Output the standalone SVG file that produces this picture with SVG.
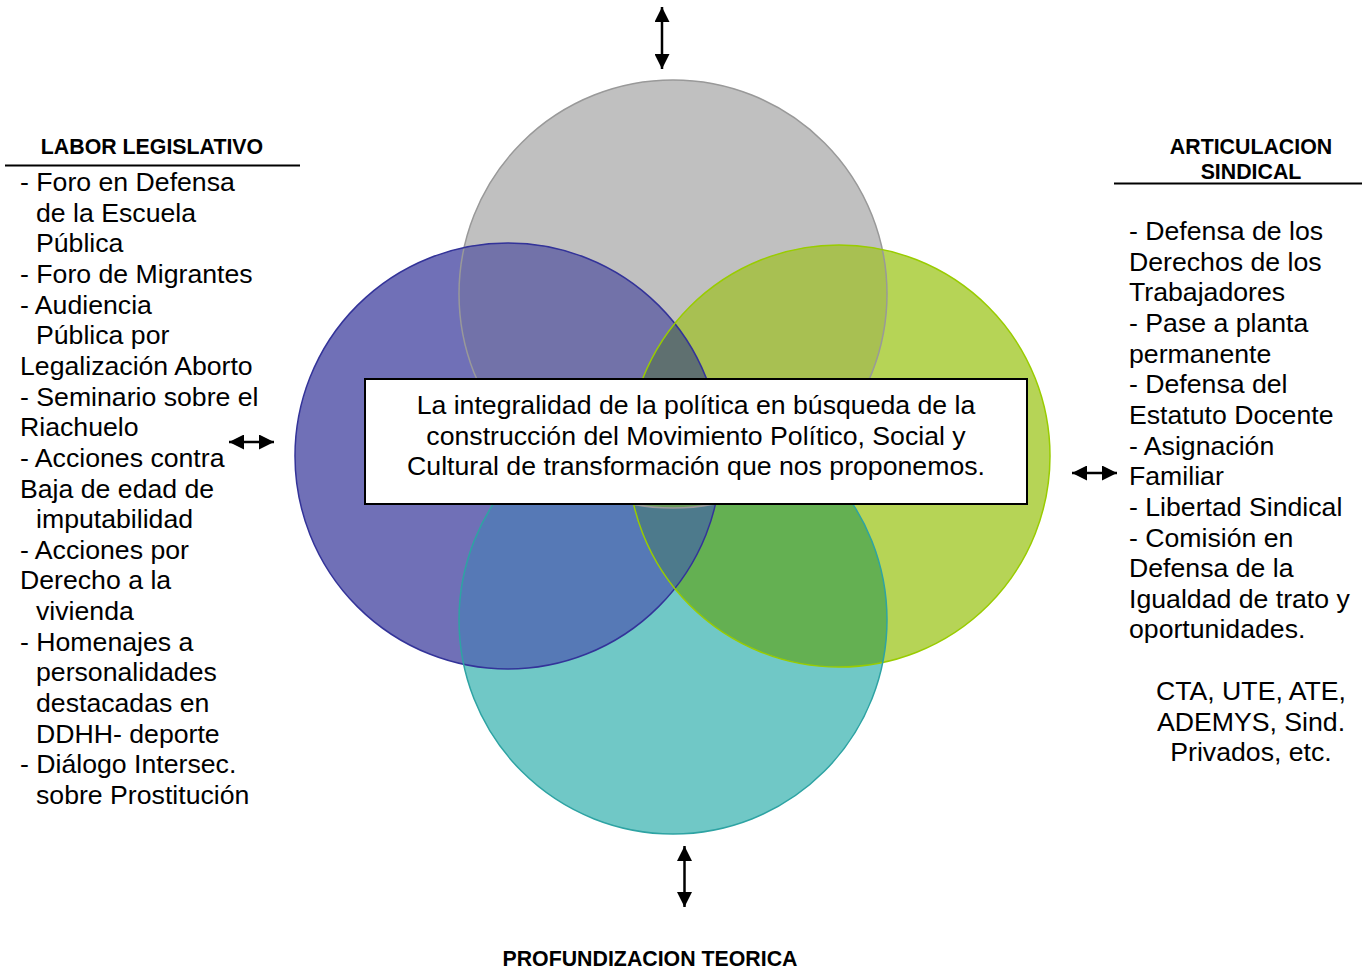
<svg xmlns="http://www.w3.org/2000/svg" width="1372" height="970" viewBox="0 0 1372 970">
<defs>
<style>
.t{font-family:"Liberation Sans",Arial,sans-serif;font-size:26.67px;fill:#000}
.h{font-family:"Liberation Sans",Arial,sans-serif;font-size:21.33px;font-weight:bold;fill:#000}
.ar{stroke:#000;stroke-width:2.5;fill:none}
.o{fill:none;stroke-width:1.5}
</style>
<marker id="ah" viewBox="0 0 16 16" refX="16" refY="8" markerWidth="15" markerHeight="15" orient="auto-start-reverse" markerUnits="userSpaceOnUse">
<path d="M0,0 L16,8 L0,16 z" fill="#000"/>
</marker>
<clipPath id="kG"><circle cx="673" cy="294" r="214"/></clipPath>
<clipPath id="kB"><circle cx="508" cy="456" r="213"/></clipPath>
<clipPath id="kR"><circle cx="839" cy="456" r="211"/></clipPath>
<clipPath id="kT"><circle cx="673" cy="620" r="214"/></clipPath>
</defs>
<rect width="1372" height="970" fill="#fff"/>
<g id="circles">
<circle id="c-top" cx="673" cy="294" r="214" fill="#c0c0c0"/>
<circle id="c-left" cx="508" cy="456" r="213" fill="#7070b7"/>
<circle id="c-right" cx="839" cy="456" r="211" fill="#b6d456"/>
<circle id="c-bottom" cx="673" cy="620" r="214" fill="#70c8c6"/>
<g id="overlaps">
<circle cx="508" cy="456" r="213" fill="#7272a9" clip-path="url(#kG)"/>
<circle cx="839" cy="456" r="211" fill="#a8c052" clip-path="url(#kG)"/>
<circle cx="673" cy="620" r="214" fill="#6e9c9c" clip-path="url(#kG)"/>
<circle cx="839" cy="456" r="211" fill="#5e7272" clip-path="url(#kB)"/>
<circle cx="673" cy="620" r="214" fill="#5679b6" clip-path="url(#kB)"/>
<circle cx="673" cy="620" r="214" fill="#64b052" clip-path="url(#kR)"/>
<g clip-path="url(#kG)"><circle cx="839" cy="456" r="211" fill="#5f7070" clip-path="url(#kB)"/></g>
<g clip-path="url(#kT)"><circle cx="839" cy="456" r="211" fill="#4d7a8c" clip-path="url(#kB)"/></g>
<g clip-path="url(#kG)"><circle cx="673" cy="620" r="214" fill="#56729e" clip-path="url(#kB)"/></g>
<g clip-path="url(#kG)"><circle cx="673" cy="620" r="214" fill="#6a9a5c" clip-path="url(#kR)"/></g>
</g>
<circle class="o" cx="673" cy="294" r="214" stroke="#999999"/>
<circle class="o" cx="508" cy="456" r="213" stroke="#333399"/>
<circle class="o" cx="839" cy="456" r="211" stroke="#99cc00"/>
<circle class="o" cx="673" cy="620" r="214" stroke="#2ea3a3"/>
</g>
<g id="center">
<rect x="365" y="379" width="662" height="125" fill="#fff" stroke="#000" stroke-width="2"/>
<text class="t" text-anchor="middle"><tspan x="696" y="414">La integralidad de la política en búsqueda de la</tspan><tspan x="696" y="445">construcción del Movimiento Político, Social y</tspan><tspan x="696" y="475">Cultural de transformación que nos proponemos.</tspan></text>
</g>
<g id="connectors">
<line class="ar" x1="662" y1="7" x2="662" y2="69" marker-start="url(#ah)" marker-end="url(#ah)"/>
<line class="ar" x1="684.5" y1="846" x2="684.5" y2="907" marker-start="url(#ah)" marker-end="url(#ah)"/>
<line class="ar" x1="229" y1="442" x2="274" y2="442" marker-start="url(#ah)" marker-end="url(#ah)"/>
<line class="ar" x1="1072" y1="473" x2="1117" y2="473" marker-start="url(#ah)" marker-end="url(#ah)"/>
</g>
<g id="labor-legislativo">
<text class="h" x="152" y="154" text-anchor="middle">LABOR LEGISLATIVO</text>
<line x1="5" y1="165.5" x2="300" y2="165.5" stroke="#000" stroke-width="2"/>
<text class="t">
<tspan x="20" y="191">- Foro en Defensa</tspan>
<tspan x="36" y="221.6">de la Escuela</tspan>
<tspan x="36" y="252.3">Pública</tspan>
<tspan x="20" y="282.9">- Foro de Migrantes</tspan>
<tspan x="20" y="313.6">- Audiencia</tspan>
<tspan x="36" y="344.2">Pública por</tspan>
<tspan x="20" y="374.9">Legalización Aborto</tspan>
<tspan x="20" y="405.5">- Seminario sobre el</tspan>
<tspan x="20" y="436.2">Riachuelo</tspan>
<tspan x="20" y="466.8">- Acciones contra</tspan>
<tspan x="20" y="497.5">Baja de edad de</tspan>
<tspan x="36" y="528.1">imputabilidad</tspan>
<tspan x="20" y="558.8">- Acciones por</tspan>
<tspan x="20" y="589.4">Derecho a la</tspan>
<tspan x="36" y="620.1">vivienda</tspan>
<tspan x="20" y="650.7">- Homenajes a</tspan>
<tspan x="36" y="681.4">personalidades</tspan>
<tspan x="36" y="712">destacadas en</tspan>
<tspan x="36" y="742.7">DDHH- deporte</tspan>
<tspan x="20" y="773.3">- Diálogo Intersec.</tspan>
<tspan x="36" y="804">sobre Prostitución</tspan>
</text>
</g>
<g id="articulacion-sindical">
<text class="h" text-anchor="middle"><tspan x="1251" y="154">ARTICULACION</tspan><tspan x="1251" y="179">SINDICAL</tspan></text>
<line x1="1114" y1="183.5" x2="1362" y2="183.5" stroke="#000" stroke-width="2"/>
<text class="t">
<tspan x="1129" y="240">- Defensa de los</tspan>
<tspan x="1129" y="270.6">Derechos de los</tspan>
<tspan x="1129" y="301.3">Trabajadores</tspan>
<tspan x="1129" y="331.9">- Pase a planta</tspan>
<tspan x="1129" y="362.6">permanente</tspan>
<tspan x="1129" y="393.2">- Defensa del</tspan>
<tspan x="1129" y="423.9">Estatuto Docente</tspan>
<tspan x="1129" y="454.5">- Asignación</tspan>
<tspan x="1129" y="485.2">Familiar</tspan>
<tspan x="1129" y="515.8">- Libertad Sindical</tspan>
<tspan x="1129" y="546.5">- Comisión en</tspan>
<tspan x="1129" y="577.1">Defensa de la</tspan>
<tspan x="1129" y="607.8">Igualdad de trato y</tspan>
<tspan x="1129" y="638.4">oportunidades.</tspan>
</text>
<text class="t" text-anchor="middle"><tspan x="1251" y="700">CTA, UTE, ATE,</tspan><tspan x="1251" y="730.6">ADEMYS, Sind.</tspan><tspan x="1251" y="761.3">Privados, etc.</tspan></text>
</g>
<g id="profundizacion-teorica">
<text class="h" x="650" y="966" text-anchor="middle">PROFUNDIZACION TEORICA</text>
</g>
</svg>
